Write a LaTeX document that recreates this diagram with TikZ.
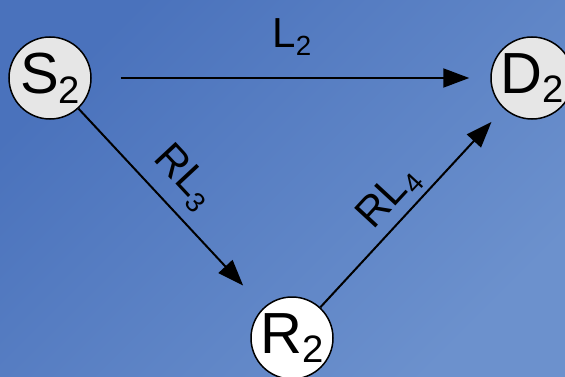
\documentclass[tikz,border=0pt]{standalone}
\usepackage{fontspec}
\setmainfont{Liberation Sans}
\usepackage{tikz}
\usetikzlibrary{arrows.meta}
\definecolor{pbgdark}{HTML}{4A72BC}
\definecolor{pbglight}{HTML}{6C91CD}
\definecolor{pgray}{HTML}{E6E6E6}
\newcommand\psub[1]{\raisebox{-0.17em}{\scalebox{0.66}{#1}}}
\tikzset{
  >={Triangle[length=26pt,width=19pt]},
  pnode/.style={circle, draw=black, fill=pgray, line width=1.5pt,
                minimum size=82pt, inner sep=0pt, font=\fontsize{58}{66}\selectfont},
  prelay/.style={pnode, fill=white},
  plink/.style={->, line width=2pt},
  plbl/.style={font=\fontsize{42}{50}\selectfont, inner sep=2pt},
}
\begin{document}
\begin{tikzpicture}[x=1pt,y=-1pt]

  \shade[top color=pbgdark, bottom color=pbglight, shading angle=45] (0,0) rectangle (565,377);
  \useasboundingbox (0,0) rectangle (565,377);

  \node[pnode]  (s2) at (50,78)   {S\psub{2}};
  \node[pnode]  (d2) at (532,78)  {D\psub{2}};
  \node[prelay] (r2) at (292,338) {R\psub{2}};

  \node[plbl] (l2) at (292,37) {L\psub{2}};

  \draw[plink, shorten <=29pt, shorten >=21pt] (s2) -- (d2);
  \draw[plink, shorten >=30pt] (s2) -- node[plbl, sloped, above=9pt, pos=0.45] {RL\psub{3}} (r2);
  \draw[plink, shorten >=18pt] (r2) -- node[plbl, sloped, above=3pt, pos=0.47] {RL\psub{4}} (d2);

\end{tikzpicture}
\end{document}
